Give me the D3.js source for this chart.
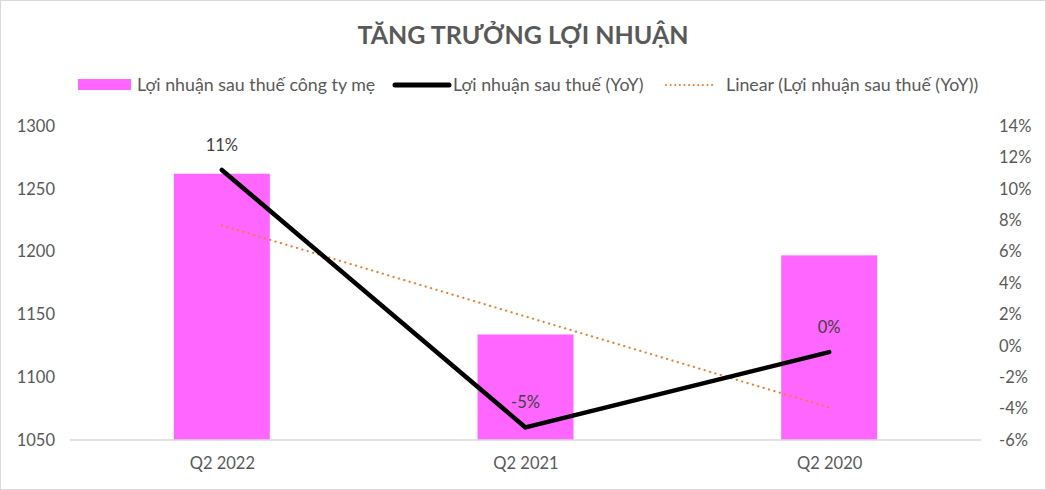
<!DOCTYPE html>
<html><head><meta charset="utf-8">
<script src="https://cdn.jsdelivr.net/npm/d3@7"></script>
<style>
html,body{margin:0;padding:0;background:#fff;}
svg text{font-family:Lato,"Open Sans","Noto Sans",sans-serif;}
</style></head>
<body><svg id="c" width="1046" height="490"></svg>
<script>
const categories = ["Q2 2022", "Q2 2021", "Q2 2020"];
const profitValues = [1262, 1134, 1197];
const yoyValues = [11.2, -5.2, -0.4];
const yoyLabels = ["11%", "-5%", "0%"];
const leftTicks = [1050, 1100, 1150, 1200, 1250, 1300];
const rightTicks = [-6, -4, -2, 0, 2, 4, 6, 8, 10, 12, 14];
const legendLabels = ["Lợi nhuận sau thuế công ty mẹ", "Lợi nhuận sau thuế (YoY)", "Linear (Lợi nhuận sau thuế (YoY))"];
const title = "TĂNG TRƯỞNG LỢI NHUẬN";

const W = 1046, H = 490;
const m = {l:70, r:65, t:126, b:50};
const FS = 16.5;
const svg = d3.select("#c");
svg.append("rect").attr("x",0.5).attr("y",0.5).attr("width",W-1).attr("height",H-1)
  .attr("fill","#fff").attr("stroke","#d9d9d9");

const x = d3.scaleBand().domain(categories).range([m.l, W-m.r]).paddingInner(0.684).paddingOuter(0.342);
const xc = d3.scalePoint().domain(categories).range([m.l, W-m.r]).padding(0.5);
const yL = d3.scaleLinear().domain([1050,1300]).range([H-m.b, m.t]);
const yR = d3.scaleLinear().domain([-6,14]).range([H-m.b, m.t]);

// title
svg.append("text").attr("x",523).attr("y",44).attr("text-anchor","middle")
  .attr("font-size",25).attr("font-weight","bold").attr("fill","#595959").text(title);

// bars
svg.selectAll(".bar").data(profitValues).join("rect")
  .attr("x",(d,i)=>x(categories[i])).attr("width",x.bandwidth())
  .attr("y",d=>yL(d)).attr("height",d=>yL(1050)-yL(d)).attr("fill","#ff66ff");

// baseline
svg.append("line").attr("x1",m.l).attr("x2",W-m.r).attr("y1",yL(1050)).attr("y2",yL(1050))
  .attr("stroke","#d9d9d9").attr("stroke-width",1.5);

// left axis
const gL = svg.append("g").attr("transform",`translate(${m.l},0)`)
  .call(d3.axisLeft(yL).tickValues(leftTicks).tickSize(0).tickPadding(15).tickFormat(d3.format("d")));
gL.select(".domain").remove();
gL.selectAll("text").attr("font-size",FS).attr("fill","#595959").attr("font-family","Lato,'Open Sans',sans-serif");

// right axis
const gR = svg.append("g").attr("transform",`translate(999,0)`)
  .call(d3.axisRight(yR).tickValues(rightTicks).tickSize(0).tickPadding(0).tickFormat(d=>d+"%"));
gR.select(".domain").remove();
gR.selectAll("text").attr("font-size",FS).attr("fill","#595959").attr("font-family","Lato,'Open Sans',sans-serif");

// x axis
const gX = svg.append("g").attr("transform",`translate(0,${yL(1050)})`)
  .call(d3.axisBottom(xc).tickSize(0).tickPadding(17));
gX.select(".domain").remove();
gX.selectAll("text").attr("font-size",FS).attr("fill","#595959").attr("font-family","Lato,'Open Sans',sans-serif");

// trendline (least squares fit over the YoY series)
const xs = yoyValues.map((d,i)=>i+1);
const mx = d3.mean(xs), my = d3.mean(yoyValues);
const slope = d3.sum(xs.map((xi,i)=>(xi-mx)*(yoyValues[i]-my))) / d3.sum(xs.map(xi=>(xi-mx)**2));
const icpt = my - slope*mx;
const trend = categories.map((c,i)=>[xc(c), yR(icpt + slope*(i+1))]);
svg.append("path").attr("d", d3.line()([trend[0], trend[trend.length-1]]))
  .attr("fill","none").attr("stroke","#ed7d31").attr("stroke-width",2.2)
  .attr("stroke-dasharray","0.1,5.5").attr("stroke-linecap","round");

// YoY line
svg.append("path").datum(yoyValues)
  .attr("d", d3.line().x((d,i)=>xc(categories[i])).y(d=>yR(d)))
  .attr("fill","none").attr("stroke","#000").attr("stroke-width",4.5).attr("stroke-linecap","round").attr("stroke-linejoin","round");

// data labels
svg.selectAll(".lbl").data(yoyValues).join("text")
  .attr("x",(d,i)=>xc(categories[i])).attr("y",d=>yR(d)-19)
  .attr("text-anchor","middle").attr("font-size",FS).attr("fill","#404040").text((d,i)=>yoyLabels[i]);

// legend
const LFS = 17.8;
const lg = svg.append("g");
const ly = 85;
lg.append("rect").attr("x",78).attr("y",ly-6).attr("width",53).attr("height",11).attr("fill","#ff66ff");
lg.append("text").attr("x",137).attr("y",ly+6).attr("font-size",LFS).attr("fill","#595959").text(legendLabels[0]);
lg.append("line").attr("x1",395).attr("x2",449).attr("y1",ly).attr("y2",ly).attr("stroke","#000").attr("stroke-width",5).attr("stroke-linecap","round");
lg.append("text").attr("x",453).attr("y",ly+6).attr("font-size",LFS).attr("fill","#595959").text(legendLabels[1]);
lg.append("line").attr("x1",666).attr("x2",716).attr("y1",ly).attr("y2",ly).attr("stroke","#ed7d31").attr("stroke-width",2)
  .attr("stroke-dasharray","0.1,4.5").attr("stroke-linecap","round");
lg.append("text").attr("x",726).attr("y",ly+6).attr("font-size",LFS).attr("fill","#595959").text(legendLabels[2]);
</script></body></html>
